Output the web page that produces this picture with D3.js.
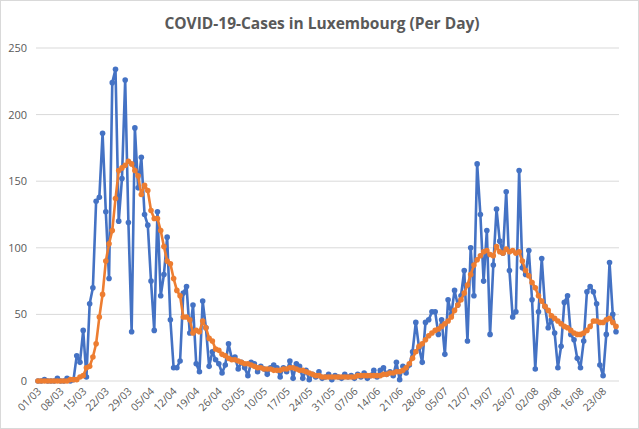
<!DOCTYPE html>
<html>
<head>
<meta charset="utf-8">
<script src="https://cdn.jsdelivr.net/npm/d3@7"></script>
<style>
  body { margin: 0; background: #fff; }
  svg { display: block; font-family: "Open Sans", "Liberation Sans", sans-serif; }
</style>
</head>
<body>
<svg id="chart" width="639" height="429"></svg>
<script>
// daily new cases, 01/03 .. 27/08
const cases = [
  0, 0, 1, 0, 0, 0, 2, 0, 0, 2, 0, 1, 19, 14, 38, 3, 58, 70, 135, 138,
  186, 127, 77, 224, 234, 120, 152, 226, 119, 37, 190, 145, 168, 125, 117, 75, 38, 127, 64, 80,
  108, 46, 10, 10, 15, 66, 71, 36, 57, 13, 7, 60, 40, 11, 22, 16, 13, 6, 12, 28,
  17, 18, 9, 14, 10, 4, 14, 13, 7, 11, 9, 5, 10, 12, 10, 3, 10, 7, 15, 2,
  13, 11, 2, 8, 1, 5, 3, 7, 2, 3, 5, 1, 4, 3, 2, 5, 3, 4, 2, 5,
  3, 6, 2, 4, 8, 3, 8, 10, 5, 7, 4, 14, 1, 11, 6, 12, 22, 44, 25, 14,
  44, 46, 52, 52, 35, 46, 20, 61, 50, 68, 57, 64, 83, 30, 100, 64, 163, 125, 75, 113,
  35, 87, 129, 105, 96, 142, 83, 48, 52, 158, 85, 80, 98, 61, 9, 52, 92, 56, 40, 46,
  36, 10, 26, 59, 64, 35, 31, 17, 10, 30, 67, 71, 67, 58, 12, 4, 35, 89, 50, 37
];
// 7-day average
const average = [
  0, 0, 0, 0, 0, 0, 0, 0, 0, 0, 1, 1, 1, 3, 4, 10, 11, 18, 28, 48,
  65, 90, 103, 113, 137, 158, 160, 162, 165, 163, 158, 154, 140, 147, 143, 128, 122, 122, 113, 101,
  90, 88, 77, 68, 64, 48, 48, 46, 36, 38, 37, 45, 40, 32, 30, 24, 23, 20, 19, 17,
  16, 16, 15, 14, 13, 13, 12, 11, 10, 10, 9, 9, 9, 8, 8, 8, 9, 9, 10, 10,
  9, 8, 8, 7, 6, 5, 4, 4, 3, 3, 3, 3, 3, 3, 3, 3, 3, 3, 3, 4,
  4, 4, 4, 4, 4, 4, 4, 5, 5, 6, 6, 7, 7, 8, 10, 13, 17, 22, 26, 28,
  31, 34, 36, 38, 39, 41, 43, 45, 48, 53, 57, 61, 66, 72, 80, 87, 91, 94, 97, 98,
  95, 94, 101, 97, 96, 99, 97, 98, 96, 97, 90, 83, 79, 74, 70, 64, 60, 56, 53, 49,
  47, 45, 43, 41, 40, 38, 36, 35, 35, 36, 38, 41, 45, 45, 44, 44, 46, 47, 44, 41
];
const yTicks = [0, 50, 100, 150, 200, 250];

const parse = d3.timeParse("%d/%m/%Y");
const start = parse("01/03/2020");
const dates = cases.map((d, i) => d3.timeDay.offset(start, i));
const fmt = d3.timeFormat("%d/%m");

const svg = d3.select("#chart");
const W = 639, H = 429;

svg.append("rect").attr("x", 0.5).attr("y", 0.5).attr("width", W - 1).attr("height", H - 1)
  .attr("fill", "#fff").attr("stroke", "#d9d9d9");

const x = d3.scalePoint().domain(d3.range(cases.length)).range([38, 616]);
const y = d3.scaleLinear().domain([0, 250]).range([381, 48]);

svg.append("text").attr("x", 322).attr("y", 29).attr("text-anchor", "middle")
  .attr("font-size", 15.5).attr("font-weight", "bold").attr("fill", "#595959")
  .text("COVID-19-Cases in Luxembourg (Per Day)");

// grid + y labels
svg.append("g").selectAll("line").data(yTicks).join("line")
  .attr("x1", 36).attr("x2", 619)
  .attr("y1", d => y(d)).attr("y2", d => y(d))
  .attr("stroke", "#d9d9d9").attr("stroke-width", 1);
svg.append("g").selectAll("text").data(yTicks).join("text")
  .attr("x", 27).attr("y", d => y(d) + 4).attr("text-anchor", "end")
  .attr("font-size", 11).attr("fill", "#595959").text(d => d);

// x labels every 7 days
const xTicks = d3.range(0, cases.length, 7);
svg.append("g").selectAll("text").data(xTicks).join("text")
  .attr("transform", i => `translate(${x(i) + 4},${392}) rotate(-45)`)
  .attr("text-anchor", "end").attr("font-size", 10.5).attr("fill", "#595959")
  .text(i => fmt(dates[i]));

function series(values, color) {
  const line = d3.line().x((d, i) => x(i)).y(d => y(d));
  const g = svg.append("g");
  g.append("path").datum(values).attr("d", line)
    .attr("fill", "none").attr("stroke", color).attr("stroke-width", 2.6)
    .attr("stroke-linejoin", "round");
  g.selectAll("circle").data(values).join("circle")
    .attr("cx", (d, i) => x(i)).attr("cy", d => y(d)).attr("r", 2.8)
    .attr("fill", color);
}
series(cases, "#4472c4");
series(average, "#ed7d31");
</script>
</body>
</html>
